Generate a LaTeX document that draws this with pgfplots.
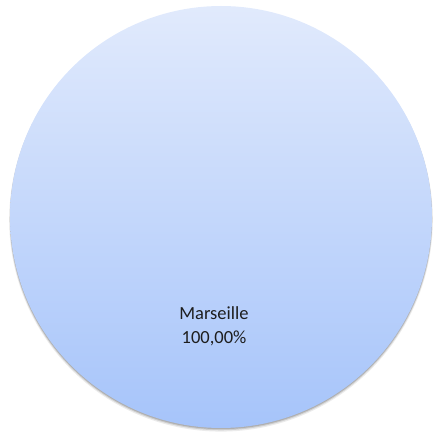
\documentclass[border=0pt]{standalone}
\usepackage{pgfplots}
\pgfplotsset{compat=1.18}
\usepackage{pgfplotstable}
\usepackage{fontspec}
\setmainfont{Carlito}
\definecolor{pietop}{RGB}{225,234,252}
\definecolor{piebot}{RGB}{166,196,250}
\definecolor{txt}{RGB}{30,30,30}
\pgfplotstableread{
name value
Marseille 100
}\piedata
\pgfplotstablegetelem{0}{value}\of\piedata
\let\marseille\pgfplotsretval
\begin{document}
\begin{tikzpicture}
\begin{axis}[
  width=433bp, height=434bp, scale only axis,
  xmin=0, xmax=433, ymin=0, ymax=434,
  hide axis, clip=true,
]
% soft shadow
\addplot[draw=none, fill=black, fill opacity=0.08, domain=90:{90-3.6*\marseille}, samples=181]
  ({221+211.8*cos(x)},{214.2+211.8*sin(x)}) -- cycle;
\addplot[draw=none, fill=black, fill opacity=0.12, domain=90:{90-3.6*\marseille}, samples=181]
  ({221+211.3*cos(x)},{215.0+211.3*sin(x)}) -- cycle;
\addplot[draw=none, fill=black, fill opacity=0.15, domain=90:{90-3.6*\marseille}, samples=181]
  ({221+211*cos(x)},{215.8+211*sin(x)}) -- cycle;
% slice: Marseille 100%
\addplot[draw=none, top color=pietop, bottom color=piebot,
  domain=90:{90-3.6*\marseille}, samples=181]
  ({221+211*cos(x)},{217+211*sin(x)}) -- cycle;
\node[anchor=base, text=txt, font=\fontsize{18.5bp}{22bp}\selectfont] at (axis cs:214,114.7) {Marseille};
\node[anchor=base, text=txt, font=\fontsize{18.5bp}{22bp}\selectfont] at (axis cs:214,90.7) {100,00\%};
\end{axis}
\pgfresetboundingbox
\path (current axis.south west) rectangle (current axis.north east);
\end{tikzpicture}
\end{document}
